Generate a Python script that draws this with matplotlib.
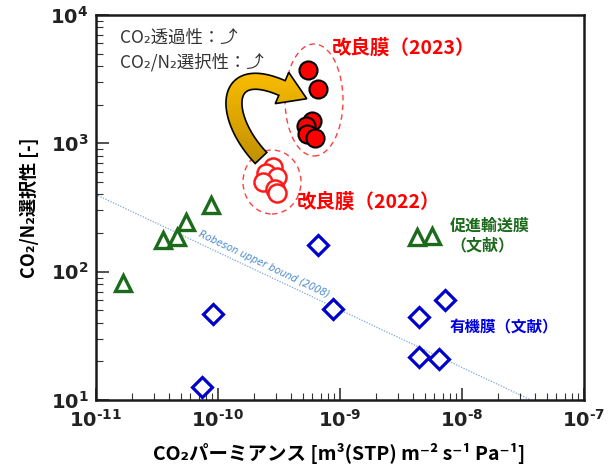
import numpy as np
import matplotlib
matplotlib.use("Agg")
import matplotlib.pyplot as plt
from matplotlib.patches import Ellipse, Polygon
from matplotlib.ticker import FixedLocator, FuncFormatter, NullFormatter

plt.rcParams["font.family"] = ["Noto Sans CJK JP", "DejaVu Sans"]
plt.rcParams["mathtext.fontset"] = "custom"
plt.rcParams["mathtext.rm"] = "DejaVu Sans"
plt.rcParams["mathtext.bf"] = "DejaVu Sans:bold"

# 改良膜 (2023)
perm_2023 = [5.5e-10, 6.7e-10, 5.9e-10, 5.3e-10, 5.4e-10, 6.3e-10]
sel_2023 = [3730, 2640, 1500, 1370, 1180, 1100]

# 改良膜 (2022)
perm_2022 = [2.86e-10, 2.52e-10, 3.05e-10, 2.37e-10, 2.95e-10, 3.05e-10]
sel_2022 = [658, 585, 550, 503, 439, 408]

# 促進輸送膜（文献）
perm_fac = [1.67e-11, 3.6e-11, 4.7e-11, 5.5e-11, 8.8e-11, 4.3e-9, 5.7e-9]
sel_fac = [81, 177, 185, 245, 331, 185, 190]

# 有機膜（文献）
perm_org = [7.5e-11, 9.1e-11, 6.7e-10, 8.9e-10, 4.5e-9, 4.5e-9, 6.5e-9, 7.3e-9]
sel_org = [12.6, 47, 161, 51, 44, 21.8, 20.8, 60]

# Robeson upper bound (2008)
robeson_perm = [1e-11, 3.7e-8]
robeson_sel = [400, 10]

# axis decades
x_decades = [-11, -10, -9, -8, -7]
y_decades = [1, 2, 3, 4]

W, H = 613, 473
fig = plt.figure(figsize=(W / 100, H / 100), dpi=100)
ax = fig.add_axes([95.5 / W, 1 - 400 / H, 488 / W, 385 / H])

ax.set_xscale("log")
ax.set_yscale("log")

# upper bound line
ax.plot(robeson_perm, robeson_sel, ls=(0, (1, 1.2)), color="#7aa6dc", lw=0.9, zorder=1)
ax.text(2.4e-10, 113, "Robeson upper bound (2008)", rotation=-25.5,
        fontsize=7, color="#4a88cc", style="italic", family="DejaVu Sans",
        ha="center", va="center", zorder=2)

# literature data
ax.plot(perm_fac, sel_fac, ls="none", marker="^", ms=11.5, mfc="white",
        mec="#1c6b1c", mew=2.4, zorder=3)
ax.plot(perm_org, sel_org, ls="none", marker="D", ms=10, mfc="white",
        mec="#0000cc", mew=2.3, zorder=3)

# this work
ax.plot(perm_2022, sel_2022, ls="none", marker="o", ms=13, mfc="white",
        mec="#ff1a1a", mew=1.8, zorder=4)
ax.plot(perm_2023, sel_2023, ls="none", marker="o", ms=13, mfc="#ff0000",
        mec="black", mew=1.5, zorder=4)


def px2ax(x, y):
    return (x - 95.5) / 488, (400 - y) / 385


# dashed groups
for cx, cy, w, h in [(314, 100, 58, 112), (272, 182, 58, 64)]:
    ex, ey = px2ax(cx, cy)
    ax.add_patch(Ellipse((ex, ey), w / 488, h / 385, transform=ax.transAxes,
                         fill=False, ec="#ff4040", lw=1.0, ls=(0, (4, 3)), zorder=2))

# curved arrow (centre line as cubic bezier in pixel space)
P = np.array([[261, 158], [222, 117], [222, 62], [282, 88]], dtype=float)
t = np.linspace(0, 1, 80)[:, None]
c = (1 - t) ** 3 * P[0] + 3 * (1 - t) ** 2 * t * P[1] + 3 * (1 - t) * t ** 2 * P[2] + t ** 3 * P[3]
d = 3 * (1 - t) ** 2 * (P[1] - P[0]) + 6 * (1 - t) * t * (P[2] - P[1]) + 3 * t ** 2 * (P[3] - P[2])
d /= np.linalg.norm(d, axis=1)[:, None]
n = np.column_stack([-d[:, 1], d[:, 0]])
half_w, head_hw, head_len = 8, 17, 27
left = c + n * half_w
right = c - n * half_w
tip = c[-1] + d[-1] * head_len
pts = np.vstack([left, c[-1] + n[-1] * head_hw, tip, c[-1] - n[-1] * head_hw, right[::-1]])
pts_fig = np.column_stack([pts[:, 0] / W, 1 - pts[:, 1] / H])

arrow = Polygon(pts_fig, closed=True, transform=fig.transFigure, fc="none",
                ec="black", lw=1.2, zorder=6)
ax.add_patch(arrow)
grad = np.linspace(0, 1, 256)[:, None]
gold = matplotlib.colors.LinearSegmentedColormap.from_list("gold", ["#ffc000", "#bf8f00"])
img = ax.imshow(grad, cmap=gold, aspect="auto", interpolation="bilinear",
                extent=[200 / W, 320 / W, 1 - 165 / H, 1 - 65 / H],
                transform=fig.transFigure, zorder=5)
img.set_clip_path(arrow)
ax.set_xlim(10.0 ** x_decades[0], 10.0 ** x_decades[-1])
ax.set_ylim(10.0 ** y_decades[0], 10.0 ** y_decades[-1])

# labels
fam = ["Noto Sans CJK JP", "DejaVu Sans"]
ax.text(*px2ax(120, 38), "CO₂透過性：⤴", transform=ax.transAxes, fontsize=12.5,
        color="#333333", ha="left", va="center", family=fam, zorder=7)
ax.text(*px2ax(120, 62), "CO₂/N₂選択性：⤴", transform=ax.transAxes, fontsize=12.5,
        color="#333333", ha="left", va="center", family=fam, zorder=7)
ax.text(*px2ax(332, 48), "改良膜（2023）", transform=ax.transAxes, fontsize=14,
        color="#ff0000", weight="bold", ha="left", va="center", zorder=7)
ax.text(*px2ax(297, 202), "改良膜（2022）", transform=ax.transAxes, fontsize=14,
        color="#ff0000", weight="bold", ha="left", va="center", zorder=7)
ax.text(*px2ax(450, 226), "促進輸送膜", transform=ax.transAxes, fontsize=11.5,
        color="#1c6b1c", weight="bold", ha="left", va="center", zorder=7)
ax.text(*px2ax(450, 245), "（文献）", transform=ax.transAxes, fontsize=11.5,
        color="#1c6b1c", weight="bold", ha="left", va="center", zorder=7)
ax.text(*px2ax(450, 327), "有機膜（文献）", transform=ax.transAxes, fontsize=11.2,
        color="#0000dd", weight="bold", ha="left", va="center", zorder=7)

ax.set_xlabel("CO₂パーミアンス [m³(STP) m⁻² s⁻¹ Pa⁻¹]", fontsize=14,
              weight="bold", family=fam, labelpad=8)
ax.set_ylabel("CO₂/N₂選択性 [-]", fontsize=13, weight="bold", family=fam, labelpad=8)


def decade_label(v, pos):
    e = int(round(np.log10(v)))
    if e < 0:
        return r"$\mathbf{10^{‐%d}}$" % -e
    return r"$\mathbf{10^{%d}}$" % e


# ticks: only decades inside the view
for axis, decs in ((ax.xaxis, x_decades), (ax.yaxis, y_decades)):
    major = [10.0 ** e for e in decs]
    minor = [m * 10.0 ** e for e in decs[:-1] for m in range(2, 10)]
    axis.set_major_locator(FixedLocator(major))
    axis.set_minor_locator(FixedLocator(minor))
    axis.set_minor_formatter(NullFormatter())
    axis.set_major_formatter(FuncFormatter(decade_label))
ax.tick_params(which="major", direction="in", length=9, width=1.1, labelsize=14,
               top=False, right=False, colors="#222222")
ax.tick_params(which="minor", direction="in", length=5, width=0.8, top=False, right=False,
               colors="#333333")
ax.tick_params(axis="x", which="major", pad=7)
ax.tick_params(axis="y", which="major", pad=5)
for s in ax.spines.values():
    s.set_linewidth(1.8)
    s.set_color("#1a1a1a")

fig.savefig("out.png", dpi=100)
